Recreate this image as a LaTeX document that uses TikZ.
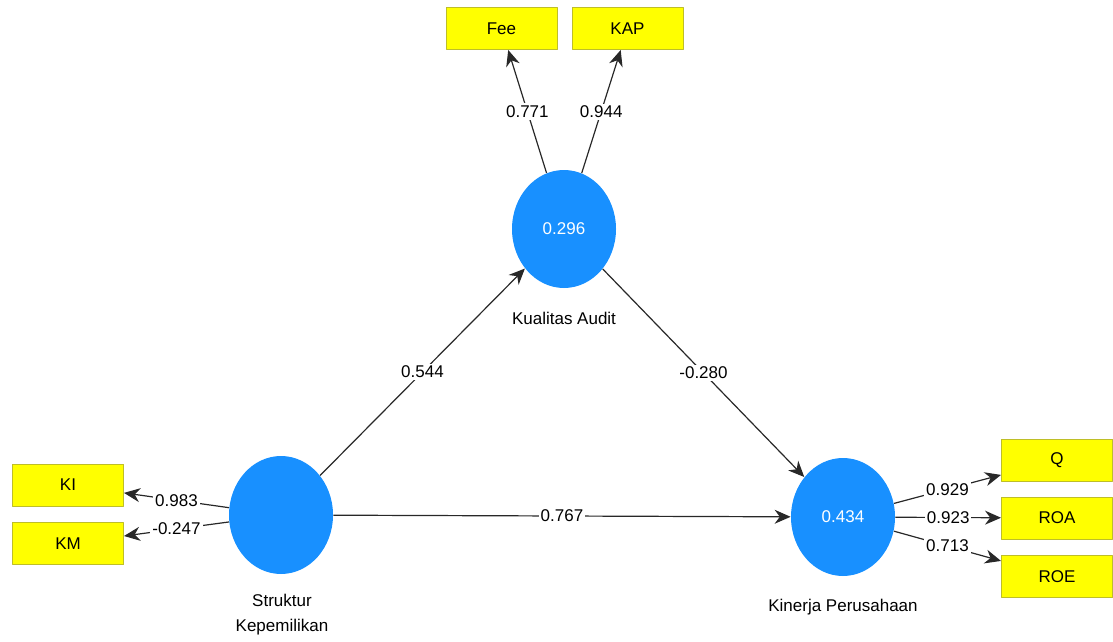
\documentclass[tikz,border=0pt]{standalone}
\usepackage{fontspec}
\setmainfont{Liberation Sans}
\usetikzlibrary{shapes.geometric,arrows.meta}
\definecolor{lvblue}{RGB}{24,144,255}
\definecolor{indyellow}{RGB}{255,255,0}
\definecolor{indborder}{RGB}{190,190,40}
\definecolor{pathgray}{RGB}{40,40,40}
\begin{document}
\begin{tikzpicture}[x=0.5pt, y=-0.5pt, font=\fontsize{8.5}{10}\selectfont, line join=round, >={Stealth[length=8pt,width=7pt]},
    latent/.style={ellipse, fill=lvblue, minimum width=52pt, minimum height=59pt, inner sep=0pt, text=white},
    ind/.style={rectangle, fill=indyellow, draw=indborder, line width=0.5pt, minimum width=55.5pt, minimum height=21pt, inner sep=0pt},
    coef/.style={fill=white, inner sep=1pt},
    path/.style={->, draw=pathgray, line width=0.6pt}]
    \useasboundingbox (0,0) rectangle (1113,642);
    % konstruk laten
    \node[latent] (ka) at (564,229) {0.296};
    \node[latent] (sk) at (281,515) {};
    \node[latent] (kp) at (843,517) {0.434};
    \node (kalbl) at (564,318) {Kualitas Audit};
    \node[align=center, font=\fontsize{8.5}{12.5}\selectfont] (sklbl) at (282,615) {Struktur\\Kepemilikan};
    \node (kplbl) at (843,607) {Kinerja Perusahaan};
    % indikator
    \node[ind] (fee) at (501.5,28.5) {Fee};
    \node[ind] (kap) at (627.5,28.5) {KAP};
    \node[ind] (ki) at (68,485) {KI};
    \node[ind] (km) at (68,543.5) {KM};
    \node[ind] (q) at (1057,460) {Q};
    \node[ind] (roa) at (1057,518) {ROA};
    \node[ind] (roe) at (1057,576.5) {ROE};
    % outer loading
    \draw[path] (ka) -- node[coef]{0.771} (fee);
    \draw[path] (ka) -- node[coef]{0.944} (kap);
    \draw[path] (sk) -- node[coef]{0.983} (ki);
    \draw[path] (sk) -- node[coef]{-0.247} (km);
    \draw[path] (kp) -- node[coef]{0.929} (q);
    \draw[path] (kp) -- node[coef]{0.923} (roa);
    \draw[path] (kp) -- node[coef]{0.713} (roe);
    % inner model
    \draw[path] (sk) -- node[coef]{0.544} (ka);
    \draw[path] (ka) -- node[coef]{-0.280} (kp);
    \draw[path] (sk) -- node[coef]{0.767} (kp);
\end{tikzpicture}
\end{document}
